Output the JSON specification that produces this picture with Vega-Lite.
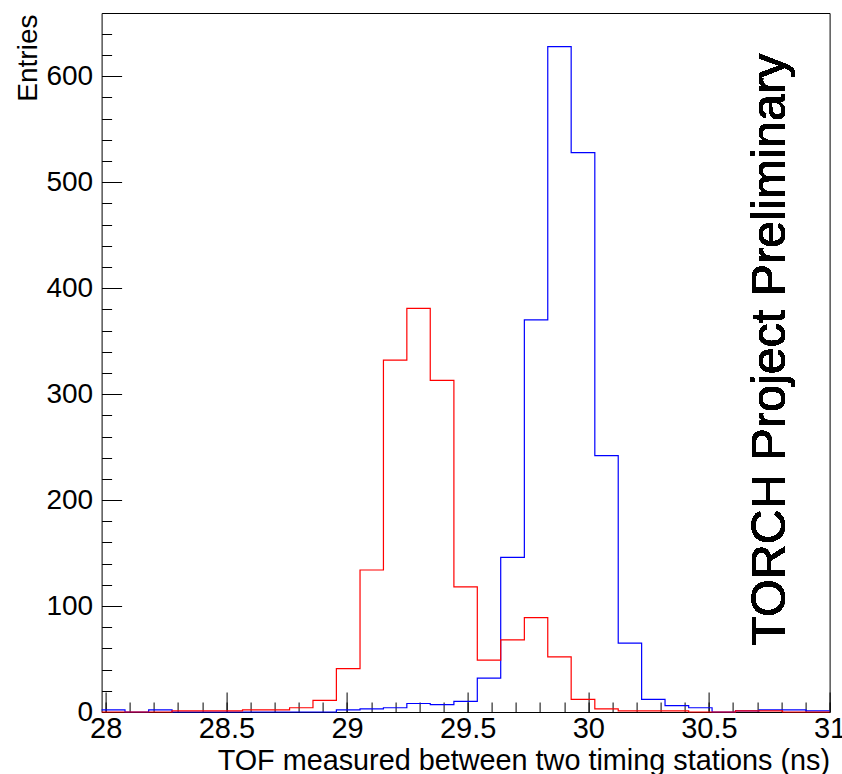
{
  "$schema": "https://vega.github.io/schema/vega-lite/v6.json",
  "width": 728,
  "height": 699,
  "autosize": "none",
  "padding": {"left": 101.6, "top": 13, "right": 12.4, "bottom": 62},
  "background": "white",
  "config": {
    "view": {"stroke": "black", "strokeWidth": 1},
    "font": "Liberation Sans",
    "axis": {
      "grid": false,
      "domain": false,
      "labelFont": "Liberation Sans",
      "titleFont": "Liberation Sans",
      "labelColor": "black",
      "titleColor": "black",
      "tickColor": "black",
      "tickWidth": 1,
      "titleFontWeight": "normal",
      "labelFlush": false,
      "labelOverlap": false,
      "labelBound": false
    }
  },
  "data": {
    "values": [
      {"sample": "Sample 1", "edge": 27.983, "entries": 2},
      {"sample": "Sample 1", "edge": 28.080, "entries": 0},
      {"sample": "Sample 1", "edge": 28.178, "entries": 2},
      {"sample": "Sample 1", "edge": 28.275, "entries": 0},
      {"sample": "Sample 1", "edge": 28.372, "entries": 0},
      {"sample": "Sample 1", "edge": 28.470, "entries": 0},
      {"sample": "Sample 1", "edge": 28.567, "entries": 0},
      {"sample": "Sample 1", "edge": 28.664, "entries": 0},
      {"sample": "Sample 1", "edge": 28.762, "entries": 0},
      {"sample": "Sample 1", "edge": 28.859, "entries": 0},
      {"sample": "Sample 1", "edge": 28.956, "entries": 2},
      {"sample": "Sample 1", "edge": 29.054, "entries": 3},
      {"sample": "Sample 1", "edge": 29.151, "entries": 4},
      {"sample": "Sample 1", "edge": 29.248, "entries": 8},
      {"sample": "Sample 1", "edge": 29.345, "entries": 7},
      {"sample": "Sample 1", "edge": 29.443, "entries": 10},
      {"sample": "Sample 1", "edge": 29.540, "entries": 32},
      {"sample": "Sample 1", "edge": 29.637, "entries": 146},
      {"sample": "Sample 1", "edge": 29.735, "entries": 370},
      {"sample": "Sample 1", "edge": 29.832, "entries": 628},
      {"sample": "Sample 1", "edge": 29.929, "entries": 528},
      {"sample": "Sample 1", "edge": 30.027, "entries": 242},
      {"sample": "Sample 1", "edge": 30.124, "entries": 65},
      {"sample": "Sample 1", "edge": 30.221, "entries": 12},
      {"sample": "Sample 1", "edge": 30.318, "entries": 6},
      {"sample": "Sample 1", "edge": 30.416, "entries": 4},
      {"sample": "Sample 1", "edge": 30.513, "entries": 0},
      {"sample": "Sample 1", "edge": 30.610, "entries": 1},
      {"sample": "Sample 1", "edge": 30.708, "entries": 2},
      {"sample": "Sample 1", "edge": 30.805, "entries": 2},
      {"sample": "Sample 1", "edge": 30.902, "entries": 1},
      {"sample": "Sample 1", "edge": 31.000, "entries": 1},
      {"sample": "Sample 2", "edge": 27.983, "entries": 0},
      {"sample": "Sample 2", "edge": 28.080, "entries": 0},
      {"sample": "Sample 2", "edge": 28.178, "entries": 0},
      {"sample": "Sample 2", "edge": 28.275, "entries": 1},
      {"sample": "Sample 2", "edge": 28.372, "entries": 1},
      {"sample": "Sample 2", "edge": 28.470, "entries": 1},
      {"sample": "Sample 2", "edge": 28.567, "entries": 2},
      {"sample": "Sample 2", "edge": 28.664, "entries": 2},
      {"sample": "Sample 2", "edge": 28.762, "entries": 4},
      {"sample": "Sample 2", "edge": 28.859, "entries": 11},
      {"sample": "Sample 2", "edge": 28.956, "entries": 41},
      {"sample": "Sample 2", "edge": 29.054, "entries": 134},
      {"sample": "Sample 2", "edge": 29.151, "entries": 332},
      {"sample": "Sample 2", "edge": 29.248, "entries": 381},
      {"sample": "Sample 2", "edge": 29.345, "entries": 313},
      {"sample": "Sample 2", "edge": 29.443, "entries": 118},
      {"sample": "Sample 2", "edge": 29.540, "entries": 49},
      {"sample": "Sample 2", "edge": 29.637, "entries": 68},
      {"sample": "Sample 2", "edge": 29.735, "entries": 89},
      {"sample": "Sample 2", "edge": 29.832, "entries": 52},
      {"sample": "Sample 2", "edge": 29.929, "entries": 12},
      {"sample": "Sample 2", "edge": 30.027, "entries": 3},
      {"sample": "Sample 2", "edge": 30.124, "entries": 1},
      {"sample": "Sample 2", "edge": 30.221, "entries": 1},
      {"sample": "Sample 2", "edge": 30.318, "entries": 1},
      {"sample": "Sample 2", "edge": 30.416, "entries": 0},
      {"sample": "Sample 2", "edge": 30.513, "entries": 0},
      {"sample": "Sample 2", "edge": 30.610, "entries": 1},
      {"sample": "Sample 2", "edge": 30.708, "entries": 1},
      {"sample": "Sample 2", "edge": 30.805, "entries": 0},
      {"sample": "Sample 2", "edge": 30.902, "entries": 0},
      {"sample": "Sample 2", "edge": 31.000, "entries": 0}
    ]
  },
  "layer": [
    {
      "transform": [{"filter": "datum.sample === 'Sample 1'"}],
      "mark": {"type": "line", "interpolate": "step-after", "color": "#0000ff", "strokeWidth": 1.2},
      "encoding": {
        "x": {
          "field": "edge", "type": "quantitative",
          "scale": {"domain": [27.983, 31], "nice": false, "zero": false},
          "axis": {
            "orient": "bottom",
            "values": [28, 28.5, 29, 29.5, 30, 30.5, 31],
            "format": "~g",
            "ticks": false,
            "labelFontSize": 29,
            "labelPadding": 2,
            "title": "TOF measured between two timing stations (ns)",
            "titleFontSize": 28.8,
            "titleX": 728,
            "titleY": 57,
            "titleAlign": "right",
            "titleBaseline": "alphabetic"
          }
        },
        "y": {
          "field": "entries", "type": "quantitative",
          "scale": {"domain": [0, 659.7], "nice": false},
          "axis": {
            "orient": "left",
            "values": [0, 100, 200, 300, 400, 500, 600],
            "format": "d",
            "ticks": false,
            "labelFontSize": 28,
            "labelPadding": 9,
            "title": "Entries",
            "titleFontSize": 28,
            "titleAngle": 270,
            "titleX": -65,
            "titleY": 1,
            "titleAlign": "right",
            "titleBaseline": "alphabetic"
          }
        }
      }
    },
    {
      "transform": [{"filter": "datum.sample === 'Sample 2'"}],
      "mark": {"type": "line", "interpolate": "step-after", "color": "#ff0000", "strokeWidth": 1.2},
      "encoding": {
        "x": {
          "field": "edge", "type": "quantitative",
          "scale": {"domain": [27.983, 31], "nice": false, "zero": false},
          "axis": {
            "orient": "bottom",
            "values": [28, 28.5, 29, 29.5, 30, 30.5, 31],
            "labels": false,
            "ticks": true,
            "tickSize": 20,
            "offset": -20,
            "title": null
          }
        },
        "y": {
          "field": "entries", "type": "quantitative",
          "scale": {"domain": [0, 659.7], "nice": false},
          "axis": {
            "orient": "left",
            "values": [0, 100, 200, 300, 400, 500, 600],
            "labels": false,
            "ticks": true,
            "tickSize": 20,
            "offset": -20,
            "title": null
          }
        }
      }
    },
    {
      "mark": {"type": "text", "text": "TORCH Project Preliminary", "angle": 270, "align": "center", "baseline": "alphabetic", "fontSize": 48.5, "font": "Liberation Sans", "color": "black"},
      "encoding": {
        "x": {
          "datum": 30.815, "type": "quantitative",
          "scale": {"domain": [27.983, 31], "nice": false, "zero": false},
          "axis": {
            "orient": "bottom",
            "values": [28, 28.1, 28.2, 28.3, 28.4, 28.5, 28.6, 28.7, 28.8, 28.9, 29, 29.1, 29.2, 29.3, 29.4, 29.5, 29.6, 29.7, 29.8, 29.9, 30, 30.1, 30.2, 30.3, 30.4, 30.5, 30.6, 30.7, 30.8, 30.9, 31],
            "labels": false,
            "ticks": true,
            "tickSize": 10,
            "offset": -10,
            "title": null
          }
        },
        "y": {
          "datum": 342,
          "type": "quantitative",
          "scale": {"domain": [0, 659.7], "nice": false},
          "axis": {
            "orient": "left",
            "values": [0, 20, 40, 60, 80, 100, 120, 140, 160, 180, 200, 220, 240, 260, 280, 300, 320, 340, 360, 380, 400, 420, 440, 460, 480, 500, 520, 540, 560, 580, 600, 620, 640],
            "labels": false,
            "ticks": true,
            "tickSize": 10,
            "offset": -10,
            "title": null
          }
        }
      }
    }
  ],
  "resolve": {"axis": {"x": "independent", "y": "independent"}}
}
